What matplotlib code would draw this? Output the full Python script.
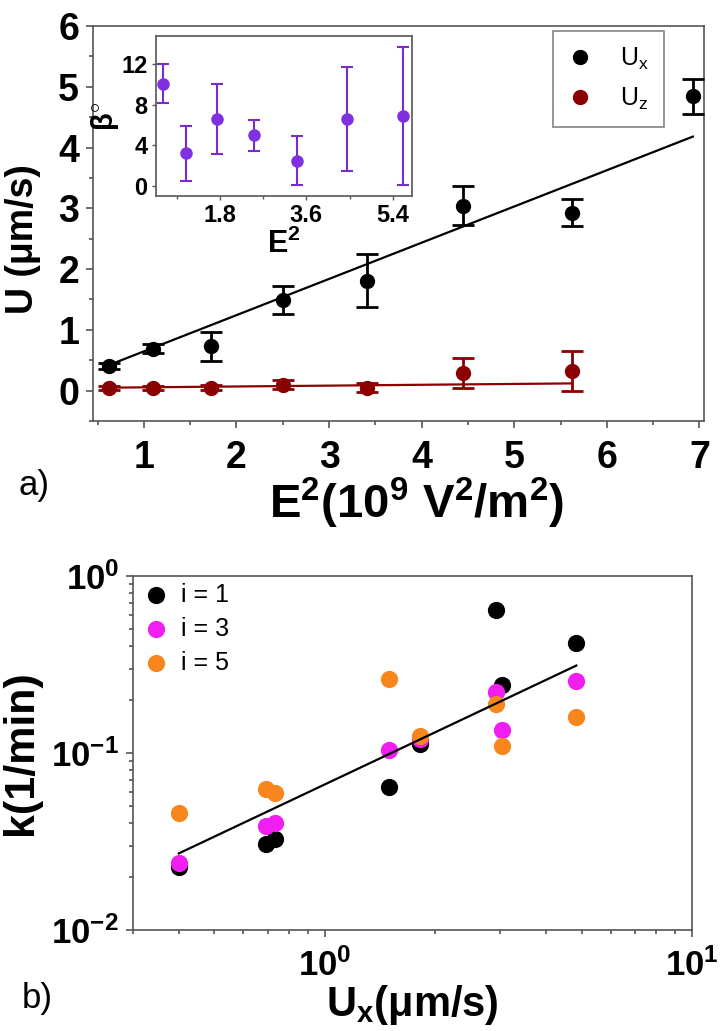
import numpy as np
import matplotlib
matplotlib.use('Agg')
import matplotlib.pyplot as plt
from matplotlib.lines import Line2D
from matplotlib.ticker import MultipleLocator, FixedLocator, FuncFormatter, LogLocator, NullFormatter

plt.rcParams['font.family'] = ['Liberation Sans', 'DejaVu Sans']
plt.rcParams['mathtext.fontset'] = 'custom'
plt.rcParams['mathtext.rm'] = 'Liberation Sans'
plt.rcParams['mathtext.bf'] = 'Liberation Sans:bold'
plt.rcParams['mathtext.it'] = 'Liberation Sans:italic'

'''
data (a): velocity against E^2
'''
E2 = [0.62, 1.10, 1.73, 2.50, 3.41, 4.45, 5.62, 6.93]
Ux = [0.40, 0.69, 0.73, 1.49, 1.81, 3.04, 2.93, 4.84]
Ux_err = [0.05, 0.07, 0.24, 0.23, 0.44, 0.32, 0.22, 0.29]
E2_z = [0.62, 1.10, 1.73, 2.50, 3.41, 4.45, 5.62]
Uz = [0.04, 0.04, 0.05, 0.10, 0.05, 0.29, 0.32]
Uz_err = [0.03, 0.03, 0.04, 0.07, 0.07, 0.25, 0.33]
fit_x = [0.05, 0.596]   # intercept, slope
fit_z = [0.04, 0.014]

# inset: angle beta
beta = [10.1, 3.2, 6.6, 5.0, 2.5, 6.6, 6.9]
beta_err = [1.9, 2.7, 3.5, 1.55, 2.4, 5.1, 6.8]

'''
data (b): rate constant against Ux
'''
Ux_b = [0.40, 0.69, 0.73, 1.49, 1.81, 2.93, 3.04, 4.84]
k_i1 = [0.0228, 0.0306, 0.0326, 0.0645, 0.113, 0.645, 0.241, 0.418]
k_i3 = [0.0240, 0.0388, 0.0404, 0.1038, 0.120, 0.221, 0.1345, 0.255]
k_i5 = [0.0461, 0.063, 0.0598, 0.262, 0.1245, 0.190, 0.110, 0.160]
fit_k = [0.0665, 0.98]   # prefactor, exponent

W, H = 723, 1031
fig = plt.figure(figsize=(W / 100, H / 100), dpi=100)
ax1 = fig.add_axes([93 / W, 1 - 421 / H, (704 - 93) / W, (421 - 26) / H])
ax_in = fig.add_axes([156 / W, 1 - 196 / H, 256 / W, 160 / H])
ax2 = fig.add_axes([133 / W, 1 - 930 / H, (692 - 133) / W, (930 - 576) / H])

frame_col = '#555555'
red = '#8B0000'
purple = '#8030E0'

for a in (ax1, ax_in, ax2):
    for s in a.spines.values():
        s.set_color(frame_col)
        s.set_linewidth(1.2)

'''
panel a
'''
ax1.errorbar(E2, Ux, yerr=Ux_err, fmt='o', color='black', ms=10,
             elinewidth=2, capsize=8, capthick=2, zorder=3)
ax1.errorbar(E2_z, Uz, yerr=Uz_err, fmt='o', color=red, ms=10,
             elinewidth=2, capsize=8, capthick=2, zorder=3)
xx = np.array([E2[0], E2[-1]])
ax1.plot(xx, fit_x[0] + fit_x[1] * xx, color='black', lw=1.6, zorder=2)
xz = np.array([E2_z[0], E2_z[-1]])
ax1.plot(xz, fit_z[0] + fit_z[1] * xz, color=red, lw=1.6, zorder=2)

ax1.set_xlim(0.45, 7.05)
ax1.set_ylim(-0.5, 6.0)
ax1.xaxis.set_major_locator(MultipleLocator(1))
ax1.xaxis.set_minor_locator(MultipleLocator(0.5))
ax1.yaxis.set_major_locator(MultipleLocator(1))
ax1.yaxis.set_minor_locator(MultipleLocator(0.5))
ax1.tick_params(which='both', direction='out', color=frame_col, width=1.2)
ax1.tick_params(which='major', length=5, labelsize=27)
ax1.tick_params(axis='x', which='major', pad=9)
ax1.tick_params(axis='y', which='major', pad=5)
ax1.tick_params(which='minor', length=3)
for t in ax1.get_xticklabels() + ax1.get_yticklabels():
    t.set_fontweight('bold')
ax1.set_xlabel(r'E$^\mathbf{2}$(10$^\mathbf{9}$ V$^\mathbf{2}$/m$^\mathbf{2}$)',
               fontsize=34, fontweight='bold')
ax1.xaxis.set_label_coords(0.53, -0.14)
ax1.set_ylabel('U (μm/s)', fontsize=27, fontweight='bold')
ax1.yaxis.set_label_coords(-0.085, 0.46)

handles = [Line2D([], [], ls='none', marker='o', color='black', ms=10),
           Line2D([], [], ls='none', marker='o', color=red, ms=10)]
leg = ax1.legend(handles, [r'U$_\mathrm{x}$', r'U$_\mathrm{z}$'], loc='upper right',
                 bbox_to_anchor=(0.935, 0.987), borderaxespad=0, fontsize=18,
                 fancybox=False, edgecolor='#666666', handlelength=1.0,
                 handletextpad=1.1, labelspacing=0.55, borderpad=0.6)
leg.get_frame().set_linewidth(1.2)
fig.text(18 / W, 1 - 495 / H, 'a)', fontsize=25)

'''
inset
'''
ax_in.errorbar(E2_z, beta, yerr=beta_err, fmt='o', color=purple, ecolor='#7A2BC8',
               ms=8, elinewidth=1.5, capsize=4, capthick=1.5)
ax_in.set_xlim(0.47, 5.8)
ax_in.set_ylim(-1, 14.8)
ax_in.xaxis.set_major_locator(FixedLocator([1.8, 3.6, 5.4]))
ax_in.xaxis.set_minor_locator(FixedLocator([0.9, 2.7, 4.5]))
ax_in.yaxis.set_major_locator(FixedLocator([0, 4, 8, 12]))
ax_in.tick_params(which='both', direction='out', color=frame_col, width=1)
ax_in.tick_params(which='major', length=3, labelsize=17, pad=3)
ax_in.tick_params(which='minor', length=2)
for t in ax_in.get_xticklabels() + ax_in.get_yticklabels():
    t.set_fontweight('bold')
ax_in.set_xlabel(r'E$^\mathbf{2}$', fontsize=22, fontweight='bold', labelpad=1)
ax_in.set_ylabel(r'β$^\mathbf{\circ}$', fontsize=21, fontweight='bold', labelpad=0)

'''
panel b
'''
ax2.scatter(Ux_b, k_i1, s=130, color='black', label='i = 1', zorder=3)
ax2.scatter(Ux_b, k_i3, s=130, color='#F01EF0', label='i = 3', zorder=4)
ax2.scatter(Ux_b, k_i5, s=130, color='#F7861D', label='i = 5', zorder=5)
uu = np.array([min(Ux_b), max(Ux_b)])
ax2.plot(uu, fit_k[0] * uu ** fit_k[1], color='black', lw=1.6, zorder=6)

ax2.set_xscale('log')
ax2.set_yscale('log')
ax2.set_xlim(0.3, 10)
ax2.set_ylim(0.01, 1)
ax2.xaxis.set_major_locator(LogLocator(base=10, numticks=5))
ax2.yaxis.set_major_locator(LogLocator(base=10, numticks=5))
ax2.xaxis.set_minor_locator(LogLocator(base=10, subs=np.arange(2, 10), numticks=10))
ax2.yaxis.set_minor_locator(LogLocator(base=10, subs=np.arange(2, 10), numticks=10))
ax2.xaxis.set_minor_formatter(NullFormatter())
ax2.yaxis.set_minor_formatter(NullFormatter())
pow_fmt = FuncFormatter(lambda v, p: r'$\mathbf{10^{%d}}$' % round(np.log10(v)))
ax2.xaxis.set_major_formatter(pow_fmt)
ax2.yaxis.set_major_formatter(pow_fmt)
ax2.tick_params(which='both', direction='out', color=frame_col, width=1.2)
ax2.tick_params(which='major', length=5, labelsize=25, pad=8)
ax2.tick_params(axis='y', which='major', pad=5)
ax2.tick_params(which='minor', length=3)
ax2.set_xlabel(r'U$_\mathbf{x}$(μm/s)', fontsize=30, fontweight='bold')
ax2.xaxis.set_label_coords(0.5, -0.15)
ax2.set_ylabel('k(1/min)', fontsize=31, fontweight='bold')
ax2.yaxis.set_label_coords(-0.165, 0.5)
ax2.legend(loc='upper left', bbox_to_anchor=(0.01, 0.995), frameon=False,
           fontsize=18, handlelength=1.0, handletextpad=0.5, borderaxespad=0,
           borderpad=0.2, labelspacing=0.4, scatterpoints=1)
fig.text(22 / W, 1 - 1008 / H, 'b)', fontsize=25)

fig.savefig('out.png', dpi=100)
